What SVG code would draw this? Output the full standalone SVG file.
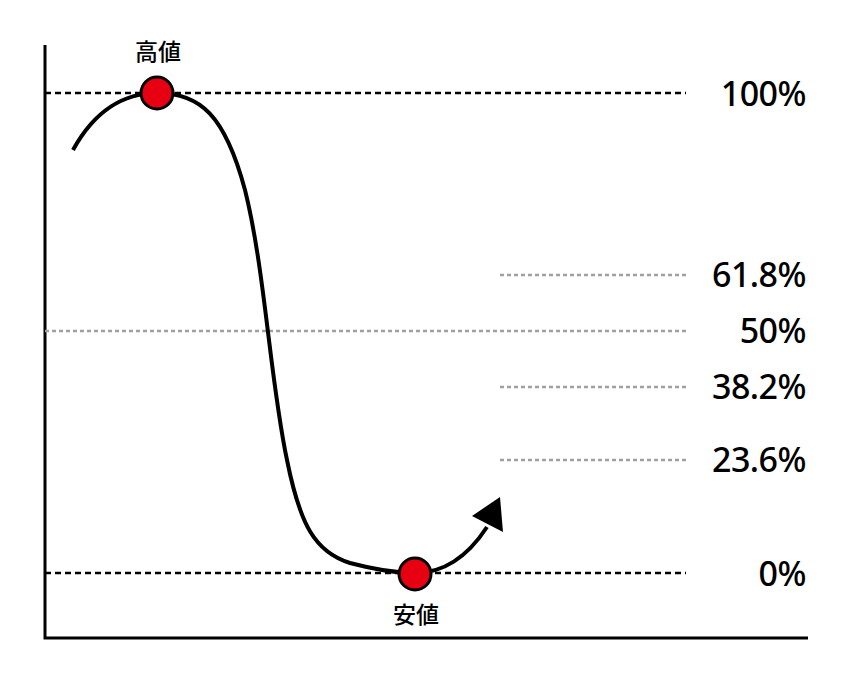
<svg xmlns="http://www.w3.org/2000/svg" width="850" height="680" viewBox="0 0 850 680">
<style>
.axis{stroke:#000;stroke-width:3;fill:none}
.dk{stroke:#000;stroke-width:2.5;stroke-dasharray:6 4;fill:none}
.gr{stroke:#a0a0a0;stroke-width:2.5;stroke-dasharray:4 3;fill:none}
.pct{font-family:"Noto Sans","Open Sans",sans-serif;font-size:34px;font-weight:500;fill:#000;text-anchor:end;letter-spacing:-0.5px}
.lbl{font-family:"Noto Sans CJK JP","Noto Sans",sans-serif;font-size:23px;font-weight:500;fill:#000;text-anchor:middle}
.pt{fill:#e60012;stroke:#000;stroke-width:3}
</style>
<rect width="850" height="680" fill="#fff"/>
<g id="axes">
<path class="axis" d="M45,45 V638 H808"/>
</g>
<g id="levels">
<line class="dk" x1="45" y1="93" x2="686" y2="93"/>
<line class="gr" x1="500" y1="275" x2="686" y2="275"/>
<line class="gr" x1="45" y1="331" x2="686" y2="331"/>
<line class="gr" x1="500" y1="387" x2="686" y2="387"/>
<line class="gr" x1="500" y1="460" x2="686" y2="460"/>
<line class="dk" x1="45" y1="573" x2="686" y2="573"/>
</g>
<g id="labels">
<text class="pct" x="806" y="106">100%</text>
<text class="pct" x="806" y="287">61.8%</text>
<text class="pct" x="806" y="343">50%</text>
<text class="pct" x="806" y="399">38.2%</text>
<text class="pct" x="806" y="472">23.6%</text>
<text class="pct" x="806" y="586">0%</text>
</g>
<g id="connectors">
<path d="M73,150 C95,110 125,93 157,93 C200,93 225,115 245,190 C265,270 270,380 287,460 C300,525 315,552 350,563 C380,571 400,573 415,573 C445,573 468,556 487,527" fill="none" stroke="#000" stroke-width="4"/>
<polygon points="472,516 500,497 503,532" fill="#000"/>
</g>
<g id="high">
<circle class="pt" cx="157" cy="93" r="16"/>
<text class="lbl" x="158" y="60">高値</text>
</g>
<g id="low">
<circle class="pt" cx="415" cy="574" r="16"/>
<text class="lbl" x="416" y="623">安値</text>
</g>
</svg>
